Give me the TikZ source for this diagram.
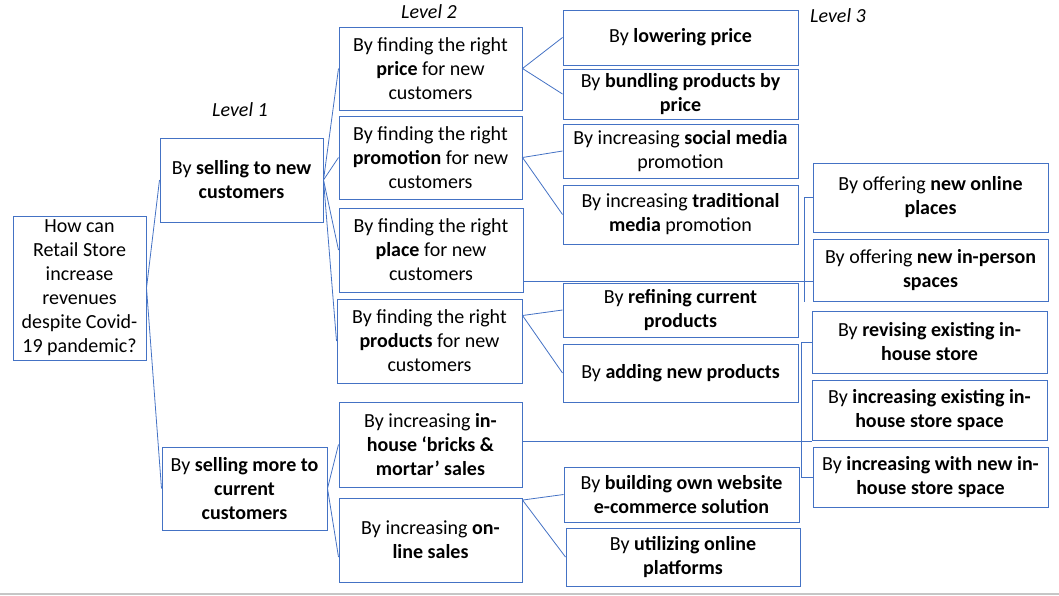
\documentclass[tikz,border=0pt]{standalone}
\usepackage{fontspec}
\setmainfont{Carlito}
\usetikzlibrary{calc}
\definecolor{bl}{HTML}{4472C4}
\tikzset{
  box/.style={draw=bl, line width=1pt, align=center, inner sep=0pt, font={\fontsize{20}{24}\selectfont}, text=black},
  conn/.style={draw=bl, line width=0.8pt},
  lvl/.style={font={\fontsize{20}{24}\selectfont\itshape}, inner sep=0pt}
}
\begin{document}
\begin{tikzpicture}[x=1pt,y=-1pt]
\useasboundingbox (0,0) rectangle (1059,595);
\draw[gray!45, line width=1.5pt] (0,594) -- (1059,594);
% labels
\node[lvl] (lv1) at (240,110) {Level 1};
\node[lvl] (lv2) at (429,12) {Level 2};
\node[lvl] (lv3) at (838,16) {Level 3};
% root and level 1
\node[box, minimum width=133, minimum height=144] (root) at (79.5,288) {How can\\Retail Store\\increase\\revenues\\despite Covid-\\19 pandemic?};
\node[box, minimum width=163, minimum height=84] (la) at (241.5,180) {By \textbf{selling to new}\\\textbf{customers}};
\node[box, minimum width=165, minimum height=83] (lb) at (244.5,488.5) {By \textbf{selling more to}\\\textbf{current}\\\textbf{customers}};
% level 2
\node[box, minimum width=183, minimum height=83] (price) at (430.5,68.5) {By finding the right\\\textbf{price} for new\\customers};
\node[box, minimum width=183, minimum height=83] (promo) at (430.5,157.5) {By finding the right\\\textbf{promotion} for new\\customers};
\node[box, minimum width=184, minimum height=84] (place) at (431,250) {By finding the right\\\textbf{place} for new\\customers};
\node[box, minimum width=185, minimum height=84] (prod) at (429.5,341) {By finding the right\\\textbf{products} for new\\customers};
\node[box, minimum width=183, minimum height=85] (inh) at (430.5,444.5) {By increasing \textbf{in-}\\\textbf{house `bricks \&}\\\textbf{mortar' sales}};
\node[box, minimum width=183, minimum height=84] (onl) at (430.5,540) {By increasing \textbf{on-}\\\textbf{line sales}};
% level 3
\node[box, minimum width=235, minimum height=55] (lower) at (680.5,37.5) {By \textbf{lowering price}};
\node[box, minimum width=235, minimum height=50] (bundle) at (680.5,94) {By \textbf{bundling products by}\\\textbf{price}};
\node[box, minimum width=235, minimum height=54] (social) at (680.5,151) {By increasing \textbf{social media}\\promotion};
\node[box, minimum width=235, minimum height=59] (trad) at (680.5,214.5) {By increasing \textbf{traditional}\\\textbf{media} promotion};
\node[box, minimum width=235, minimum height=54] (refine) at (680.5,310) {By \textbf{refining current}\\\textbf{products}};
\node[box, minimum width=235, minimum height=58] (adding) at (680.5,373) {By \textbf{adding new products}};
\node[box, minimum width=235, minimum height=55] (build) at (681.5,494.5) {By \textbf{building own website}\\\textbf{e-commerce solution}};
\node[box, minimum width=234, minimum height=58] (util) at (683,557) {By \textbf{utilizing online}\\\textbf{platforms}};
\node[box, minimum width=235, minimum height=69] (newol) at (930.5,197.5) {By offering \textbf{new online}\\\textbf{places}};
\node[box, minimum width=235, minimum height=62] (inper) at (930.5,270) {By offering \textbf{new in-person}\\\textbf{spaces}};
\node[box, minimum width=235, minimum height=62] (revis) at (929.5,342) {By \textbf{revising existing in-}\\\textbf{house store}};
\node[box, minimum width=235, minimum height=60] (incex) at (929.5,410) {By \textbf{increasing existing in-}\\\textbf{house store space}};
\node[box, minimum width=235, minimum height=60] (incnew) at (930.5,477) {By \textbf{increasing with new in-}\\\textbf{house store space}};
% connectors
\draw[conn] (la.west) -- (root.east) -- (lb.west);
\draw[conn] (la.east) -- (price.west);
\draw[conn] (la.east) -- (promo.west);
\draw[conn] (la.east) -- (place.west);
\draw[conn] (la.east) -- (prod.west);
\draw[conn] (inh.west) -- (lb.east) -- ($(onl.south west)!0.3!(onl.north west)$);
\draw[conn] (lower.west) -- (price.east) -- (bundle.west);
\draw[conn] (social.west) -- (promo.east) -- (trad.west);
\coordinate (pd) at ($(prod.north east)!0.2!(prod.south east)$);
\draw[conn] (refine.west) -- (pd) -- (adding.west);
\coordinate (od) at ($(onl.north east)!0.03!(onl.south east)$);
\draw[conn] (build.west) -- (od) -- (util.west);
\coordinate (pl) at ($(place.north east)!0.87!(place.south east)$);
\draw[conn] (pl) -- (pl -| inper.west);
\coordinate (b1) at (804,302);
\draw[conn] (newol.west) -- (newol.west -| b1) -- (b1);
\coordinate (ih) at (522,441);
\draw[conn] (ih) -- (ih -| incex.west);
\draw[conn] (revis.west) -- ++(-10,0) |- (incnew.west);
\end{tikzpicture}
\end{document}
